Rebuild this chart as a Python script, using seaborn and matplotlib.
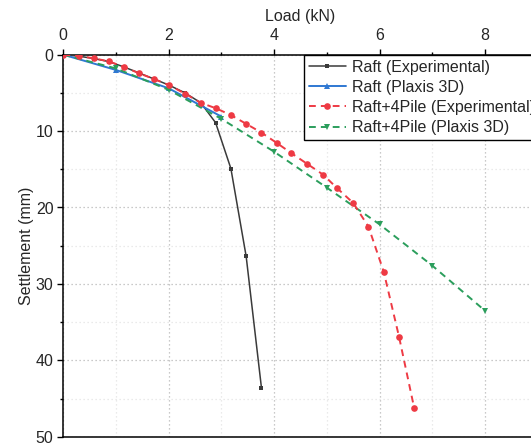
import matplotlib
matplotlib.use("Agg")
import matplotlib.pyplot as plt
from matplotlib.ticker import MultipleLocator
import seaborn as sns
import pandas as pd

# Load (kN) / settlement (mm) readings for each case
raft_exp_load = [0, 0.30, 0.58, 0.86, 1.15, 1.44, 1.73, 2.01, 2.31, 2.61, 2.89, 3.18, 3.47, 3.76]
raft_exp_settle = [0, 0.2, 0.5, 0.9, 1.6, 2.4, 3.2, 4.0, 5.0, 6.3, 8.9, 14.9, 26.4, 43.6]

raft_fem_load = [0, 1, 2, 3]
raft_fem_settle = [0, 2.0, 4.4, 8.1]

pile_exp_load = [0, 0.30, 0.58, 0.86, 1.15, 1.44, 1.73, 2.01, 2.31, 2.61, 2.89, 3.18,
                 3.47, 3.76, 4.05, 4.33, 4.63, 4.93, 5.20, 5.50, 5.79, 6.08, 6.37, 6.66]
pile_exp_settle = [0, 0.17, 0.47, 0.87, 1.58, 2.45, 3.2, 4.0, 5.1, 6.3, 7.0, 7.9,
                   9.05, 10.2, 11.55, 12.9, 14.3, 15.7, 17.5, 19.4, 22.5, 28.4, 36.9, 46.3]

pile_fem_load = [0, 1, 2, 3, 4, 5, 6, 7, 8]
pile_fem_settle = [0, 1.8, 4.6, 8.4, 12.7, 17.4, 22.2, 27.6, 33.5]

labels = ["Raft (Experimental)", "Raft (Plaxis 3D)",
          "Raft+4Pile (Experimental)", "Raft+4Pile (Plaxis 3D)"]
x_ticks = [0, 2, 4, 6, 8]
y_ticks = [0, 10, 20, 30, 40, 50]

sns.set_style("ticks")
plt.rcParams["font.family"] = ["Liberation Sans", "DejaVu Sans"]
plt.rcParams["font.size"] = 11.5

fig = plt.figure(figsize=(5.31, 4.44), dpi=100)
W, H = 531, 444
ax = fig.add_axes([63.3 / W, 1 - 436.7 / H, 9 * 52.7 / W, (436.7 - 54.7) / H])

series = [
    (raft_exp_load, raft_exp_settle, labels[0], "#3a3a3a", "s", 3.2, "", 1.1),
    (raft_fem_load, raft_fem_settle, labels[1], "#2f78d2", "^", 4.2, "", 1.4),
    (pile_exp_load, pile_exp_settle, labels[2], "#ee3a44", "o", 4.8, (3.5, 2.6), 1.4),
    (pile_fem_load, pile_fem_settle, labels[3], "#2b9e5c", "v", 5.0, (3.5, 2.6), 1.4),
]
zorders = [3, 4, 6, 5]

for (xs, ys, lab, col, mk, ms, dash, lw), z in zip(series, zorders):
    df = pd.DataFrame({"Load": xs, "Settlement": ys})
    sns.lineplot(data=df, x="Load", y="Settlement", ax=ax, color=col,
                 marker=mk, markersize=ms, markeredgewidth=0, linewidth=lw,
                 dashes=dash if dash else "", sort=False, estimator=None,
                 label=lab, zorder=z)

ax.set_xlim(0, 9)
ax.set_ylim(50, 0)
ax.set_xticks(x_ticks)
ax.set_yticks(y_ticks)
ax.xaxis.set_minor_locator(MultipleLocator(1))
ax.yaxis.set_minor_locator(MultipleLocator(5))

ax.xaxis.tick_top()
ax.xaxis.set_label_position("top")
ax.set_xlabel("Load (kN)", fontsize=11.5, labelpad=5)
ax.set_ylabel("Settlement (mm)", fontsize=11.5, labelpad=1.5)

ax.tick_params(which="major", direction="out", length=4, width=1, color="black",
               labelsize=11.5, pad=3)
ax.tick_params(which="minor", direction="out", length=2.5, width=1, color="black")
ax.tick_params(axis="x", which="both", bottom=False, top=True)
ax.tick_params(axis="x", which="major", pad=4.5)

for side in ["top", "left", "bottom", "right"]:
    ax.spines[side].set_visible(True)
    ax.spines[side].set_linewidth(1.1)
    ax.spines[side].set_color("black")

ax.grid(which="major", linestyle=(0, (1, 2.2)), color="#b8b8b8", linewidth=0.9)
ax.grid(which="minor", linestyle=(0, (1, 2.2)), color="#e4e4e4", linewidth=0.9)
ax.set_axisbelow(True)

leg = ax.legend(loc="upper left", bbox_to_anchor=(304 / W, 1 - 55 / H),
                bbox_transform=fig.transFigure, borderaxespad=0, frameon=True,
                fancybox=False, framealpha=1, edgecolor="black", fontsize=11.5,
                handlelength=2.3, handletextpad=0.4, labelspacing=0.32, borderpad=0.3)
leg.get_frame().set_linewidth(1.0)

fig.savefig("out.png", dpi=100)
